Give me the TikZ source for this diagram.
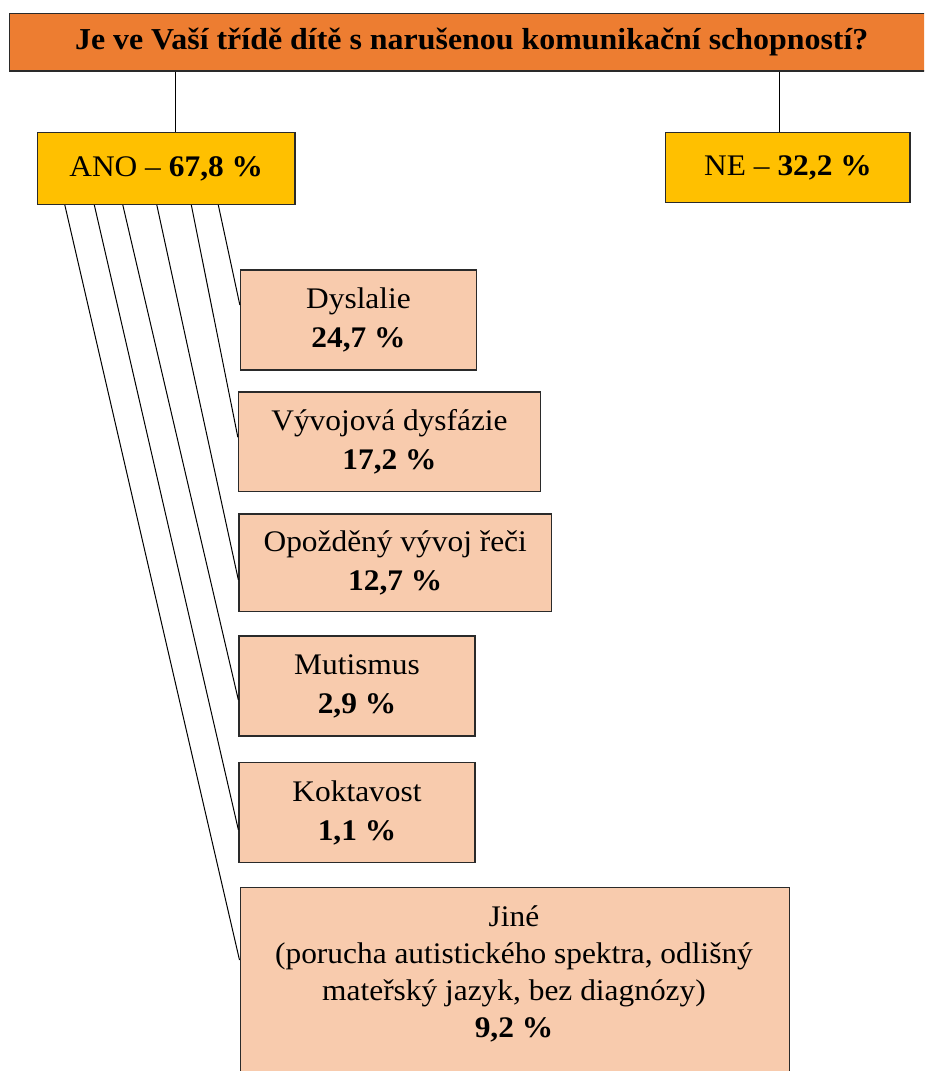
\documentclass[tikz,border=0pt]{standalone}
\usepackage{fontspec}
\setmainfont{Liberation Serif}[FakeStretch=1.05]
\usetikzlibrary{calc}
\definecolor{titleorange}{HTML}{ED7D31}
\definecolor{gold}{HTML}{FFC000}
\definecolor{peach}{HTML}{F8CBAD}
\definecolor{edge}{HTML}{2A2A2A}
\tikzset{
  titlebox/.style={draw=edge, line width=1.3pt, fill=titleorange, minimum width=925pt, minimum height=57.5pt, inner sep=0pt, font=\fontsize{30.4}{34}\selectfont\bfseries},
  answerbox/.style={draw=edge, line width=1.3pt, fill=gold, inner sep=0pt, font=\fontsize{29.9}{38}\selectfont},
  catbox/.style={draw=edge, line width=1.3pt, fill=peach, inner sep=0pt, align=center, font=\fontsize{29.9}{39}\selectfont},
  link/.style={draw=black, line width=1pt},
  plaintext/.style={inner sep=0pt, align=center, font=\fontsize{29.9}{37}\selectfont}
}
\begin{document}
\begin{tikzpicture}[x=1pt, y=-1pt]
\useasboundingbox (0,0) rectangle (924,1071);
\clip (0,0) rectangle (924,1071);
% title
\node[titlebox] (title) at (471.75,42.25) {Je ve Vaší třídě dítě s narušenou komunikační schopností?};
% answers
\node[answerbox, minimum width=257.5pt, minimum height=72pt] (ano) at (166.25,168.5) {ANO – \textbf{67,8 \%}};
\node[answerbox, minimum width=244.3pt, minimum height=70pt] (ne) at (787.9,167.7) {NE – \textbf{32,2 \%}};
% categories
\node[catbox, minimum width=236pt, minimum height=100pt] (dys) at (358.5,320) {Dyslalie\\\textbf{24,7 \%}};
\node[catbox, minimum width=302pt, minimum height=99.5pt] (vyv) at (389.5,441.75) {Vývojová dysfázie\\\textbf{17,2 \%}};
\node[catbox, minimum width=312.5pt, minimum height=97.5pt] (opo) at (395.25,562.75) {Opožděný vývoj řeči\\\textbf{12,7 \%}};
\node[catbox, minimum width=236pt, minimum height=100pt] (mut) at (357,686) {Mutismus\\\textbf{2,9 \%}};
\node[catbox, minimum width=236pt, minimum height=100pt] (kok) at (357,812.7) {Koktavost\\\textbf{1,1 \%}};
\node[catbox, minimum width=549.5pt, minimum height=220pt, anchor=north west] (jine) at (239.5,886.5) {};
\node[plaintext] (jinetext) at (514,974) {Jiné\\(porucha autistického spektra, odlišný\\mateřský jazyk, bez diagnózy)\\\textbf{9,2 \%}};
% title connectors
\coordinate (tl) at (175,0);
\coordinate (tr) at (779,0);
\draw[link] (title.south -| tl) -- (ano.north -| tl);
\draw[link] (title.south -| tr) -- (ne.north -| tr);
% category connectors
\draw[link] ($(ano.south west)+(181.5,0)$) -- ($(dys.west)+(0,-15)$);
\draw[link] ($(ano.south west)+(154.5,0)$) -- ($(vyv.west)+(0,-4.5)$);
\draw[link] ($(ano.south west)+(120,0)$) -- ($(opo.west)+(0,17)$);
\draw[link] ($(ano.south west)+(86,0)$) -- ($(mut.west)+(0,14)$);
\draw[link] ($(ano.south west)+(57.5,0)$) -- ($(kok.west)+(0,17)$);
\draw[link] ($(ano.south west)+(28,0)$) -- ($(jine.north west)+(0,73.5)$);
\end{tikzpicture}
\end{document}
